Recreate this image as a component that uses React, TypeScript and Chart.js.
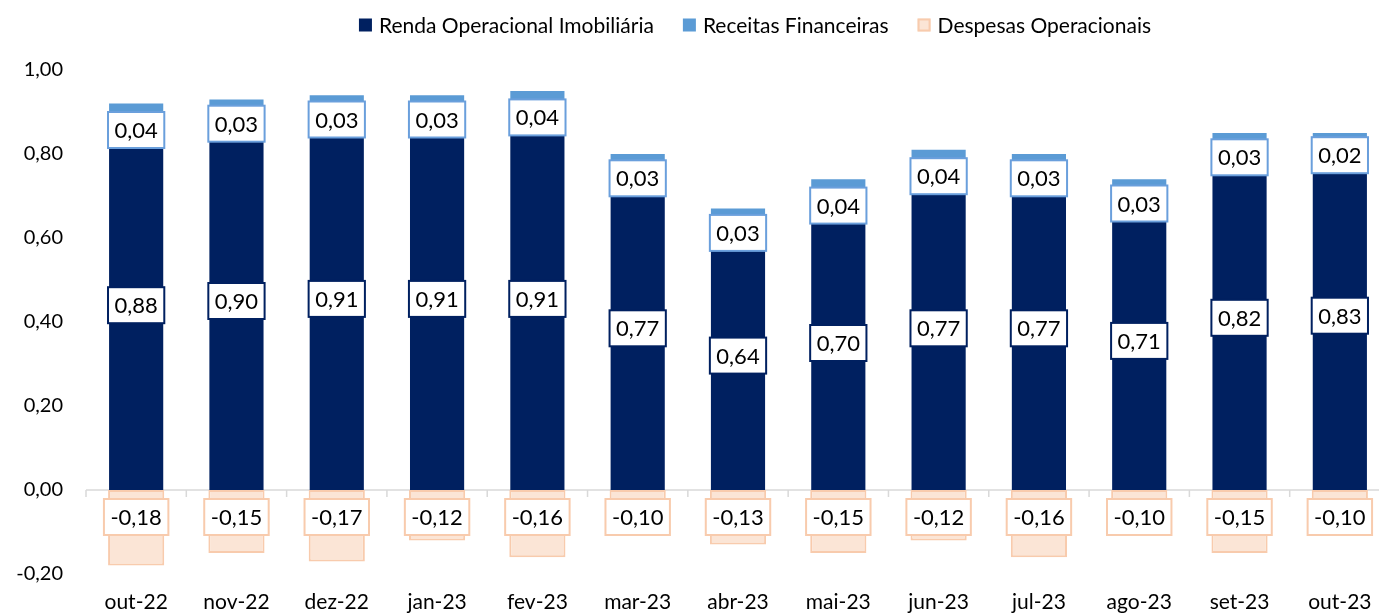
import React, { useEffect, useRef } from 'react';
import { Chart, registerables } from 'chart.js';

Chart.register(...registerables);

const categories = ['out-22', 'nov-22', 'dez-22', 'jan-23', 'fev-23', 'mar-23', 'abr-23', 'mai-23', 'jun-23', 'jul-23', 'ago-23', 'set-23', 'out-23'];
const rendaOperacional = [0.88, 0.90, 0.91, 0.91, 0.91, 0.77, 0.64, 0.70, 0.77, 0.77, 0.71, 0.82, 0.83];
const receitasFinanceiras = [0.04, 0.03, 0.03, 0.03, 0.04, 0.03, 0.03, 0.04, 0.04, 0.03, 0.03, 0.03, 0.02];
const despesasOperacionais = [-0.18, -0.15, -0.17, -0.12, -0.16, -0.10, -0.13, -0.15, -0.12, -0.16, -0.10, -0.15, -0.10];
const seriesNames = ['Renda Operacional Imobiliária', 'Receitas Financeiras', 'Despesas Operacionais'];

const NAVY = '#002060';
const LIGHT_BLUE = '#5B9BD5';
const LABEL_BLUE = '#6A9FDC';
const PEACH_FILL = '#FBE5D6';
const PEACH_BORDER = '#F8CBAD';
const FONT = 'Lato, "Noto Sans", sans-serif';

const fmt = (v: number) => {
  const n = Math.abs(v) < 1e-9 ? 0 : Number(v);
  return n.toFixed(2).replace('.', ',');
};

const zeroLinePlugin = {
  id: 'zeroLine',
  beforeDatasetsDraw(chart: any) {
    const { ctx, chartArea, scales } = chart;
    const x = scales.x;
    const y0 = scales.y.getPixelForValue(0);
    const step = x.getPixelForValue(1) - x.getPixelForValue(0);
    ctx.save();
    ctx.strokeStyle = '#D9D9D9';
    ctx.lineWidth = 1.5;
    ctx.beginPath();
    ctx.moveTo(chartArea.left, y0);
    ctx.lineTo(chartArea.right, y0);
    for (let i = 0; i <= categories.length; i++) {
      const px = x.getPixelForValue(0) - step / 2 + i * step;
      ctx.moveTo(px, y0);
      ctx.lineTo(px, y0 + 7);
    }
    ctx.stroke();
    ctx.restore();
  },
};

const labelBoxPlugin = {
  id: 'labelBoxes',
  afterDatasetsDraw(chart: any) {
    const { ctx, scales } = chart;
    const y0 = scales.y.getPixelForValue(0);
    const h = 36;
    ctx.save();
    ctx.font = `22px ${FONT}`;
    ctx.textAlign = 'center';
    ctx.textBaseline = 'middle';
    const borders = [NAVY, LABEL_BLUE, PEACH_BORDER];
    chart.data.datasets.forEach((ds: any, di: number) => {
      const meta = chart.getDatasetMeta(di);
      meta.data.forEach((bar: any, i: number) => {
        const v = ds.data[i];
        const { x, y, base } = bar.getProps(['x', 'y', 'base'], true);
        const text = fmt(v);
        const w = ctx.measureText(text).width + 13;
        let top: number;
        if (di === 0) top = (y + base) / 2 - h / 2;
        else if (di === 1) top = (y + base) / 2;
        else top = y0 + 9;
        ctx.fillStyle = '#FFFFFF';
        ctx.fillRect(x - w / 2, top, w, h);
        ctx.strokeStyle = borders[di];
        ctx.lineWidth = 2;
        ctx.strokeRect(x - w / 2, top, w, h);
        ctx.fillStyle = '#000000';
        ctx.fillText(text, x, top + h / 2 + 1);
      });
    });
    ctx.restore();
  },
};

const legendPlugin = {
  id: 'customLegend',
  afterDraw(chart: any) {
    const { ctx } = chart;
    ctx.save();
    ctx.font = `21px ${FONT}`;
    ctx.textBaseline = 'middle';
    ctx.textAlign = 'left';
    const box = 13;
    const gapText = 7;
    const gapItem = 29;
    const widths = chart.data.datasets.map((ds: any) => box + gapText + ctx.measureText(ds.label).width);
    const total = widths.reduce((a: number, b: number) => a + b, 0) + gapItem * (widths.length - 1);
    let x = 755 - total / 2;
    const cy = 25;
    chart.data.datasets.forEach((ds: any, i: number) => {
      if (i === 2) {
        ctx.fillStyle = PEACH_FILL;
        ctx.fillRect(x, cy - box / 2, box, box);
        ctx.strokeStyle = PEACH_BORDER;
        ctx.lineWidth = 2;
        ctx.strokeRect(x + 1, cy - box / 2 + 1, box - 2, box - 2);
      } else {
        ctx.fillStyle = ds.backgroundColor;
        ctx.fillRect(x, cy - box / 2, box, box);
      }
      ctx.fillStyle = '#000000';
      ctx.fillText(ds.label, x + box + gapText, cy + 1);
      x += widths[i] + gapItem;
    });
    ctx.restore();
  },
};

export default function App() {
  const canvasRef = useRef<HTMLCanvasElement | null>(null);

  useEffect(() => {
    document.body.style.overflow = 'hidden';
    const canvas = canvasRef.current;
    if (!canvas) return;
    const chart = new Chart(canvas, {
      type: 'bar',
      data: {
        labels: categories,
        datasets: [
          {
            label: seriesNames[0],
            data: rendaOperacional,
            backgroundColor: NAVY,
            stack: 's',
            barPercentage: 0.54,
            categoryPercentage: 1,
          },
          {
            label: seriesNames[1],
            data: receitasFinanceiras,
            backgroundColor: LIGHT_BLUE,
            stack: 's',
            barPercentage: 0.54,
            categoryPercentage: 1,
          },
          {
            label: seriesNames[2],
            data: despesasOperacionais,
            backgroundColor: PEACH_FILL,
            borderColor: PEACH_BORDER,
            borderWidth: 2,
            borderSkipped: false,
            stack: 's',
            barPercentage: 0.56,
            categoryPercentage: 1,
          },
        ],
      },
      options: {
        responsive: false,
        animation: false,
        devicePixelRatio: 1,
        layout: { padding: { top: 70, right: 10, left: 0, bottom: 0 } },
        plugins: {
          legend: { display: false },
          tooltip: { enabled: false },
        },
        scales: {
          x: {
            stacked: true,
            grid: { display: false, drawTicks: false },
            border: { display: false },
            ticks: { color: '#000000', font: { family: FONT, size: 21 }, padding: 16, maxRotation: 0 },
            afterFit: (s: any) => { s.height = 66; },
          },
          y: {
            stacked: true,
            min: -0.2,
            max: 1.0,
            grid: { display: false, drawTicks: false },
            border: { display: false },
            ticks: {
              stepSize: 0.2,
              color: '#000000',
              font: { family: FONT, size: 20 },
              padding: 23,
              callback: (v: any) => fmt(Number(v)),
            },
            afterFit: (s: any) => { s.width = 86; },
          },
        },
      },
      plugins: [zeroLinePlugin, labelBoxPlugin, legendPlugin],
    });
    return () => chart.destroy();
  }, []);

  return (
    <div style={{ position: 'absolute', left: 0, top: 0, width: 1400, height: 640 }}>
      <canvas ref={canvasRef} width={1400} height={640} />
    </div>
  );
}
